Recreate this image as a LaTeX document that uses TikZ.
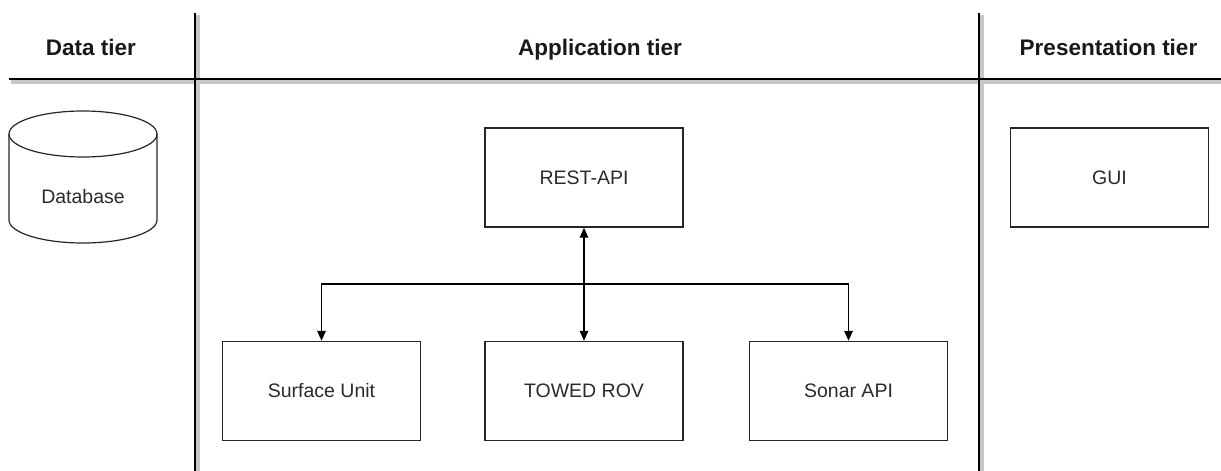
\documentclass[tikz,border=0pt]{standalone}
\usepackage{fontspec}
\setmainfont{Liberation Sans}
\usetikzlibrary{arrows.meta}
\definecolor{txt}{HTML}{2A2A2A}
\tikzset{
  tierline/.style={line width=2.6pt, black},
  tiershadow/.style={line width=5pt, black!22},
  header/.style={font=\fontsize{22.5}{26}\selectfont\bfseries, text=black!90, inner sep=0pt},
  boxnode/.style={draw=black!85, line width=1.4pt, minimum width=198pt, minimum height=99pt, inner sep=0pt,
    font=\fontsize{19.5}{23}\selectfont, text=txt},
  conn/.style={line width=1.4pt, black, -{Triangle[length=10pt,width=8.5pt]}},
  conn2/.style={line width=1.4pt, black, {Triangle[length=10pt,width=8.5pt]}-{Triangle[length=10pt,width=8.5pt]}},
}
\begin{document}
\begin{tikzpicture}[x=1pt,y=-1pt]
\useasboundingbox (0,0) rectangle (1221,471);
% tier lines
\coordinate (hl) at (9,79);
\coordinate (hr) at (1221,79);
\coordinate (v1t) at (195,13);
\coordinate (v1b) at (195,471);
\coordinate (v2t) at (979,13);
\coordinate (v2b) at (979,471);
\draw[tiershadow] ([shift={(1.5,2)}]hl) -- ([shift={(0,2)}]hr);
\draw[tiershadow] ([shift={(2,1.5)}]v1t) -- ([shift={(2,0)}]v1b);
\draw[tiershadow] ([shift={(2,1.5)}]v2t) -- ([shift={(2,0)}]v2b);
\draw[tierline] (hl) -- (hr);
\draw[tierline] (v1t) -- (v1b);
\draw[tierline] (v2t) -- (v2b);
% headers
\node[header, anchor=base] (h1) at (91,55) {Data tier};
\node[header, anchor=base] (h2) at (600,55) {Application tier};
\node[header, anchor=base] (h3) at (1108.5,55) {Presentation tier};
% database cylinder
\node[minimum width=148pt, minimum height=20pt, inner sep=0pt, font=\fontsize{19.5}{23}\selectfont, text=txt] (db) at (83,197) {Database};
\draw[line width=1.2pt, black!85] (9,134) -- (9,220) arc[start angle=180, end angle=0, x radius=74, y radius=23] -- (157,134);
\draw[line width=1.2pt, black!85] (83,134) ellipse[x radius=74, y radius=23];
% boxes
\node[boxnode] (rest) at (584,177.5) {REST-API};
\node[boxnode] (gui) at (1109.5,177.5) {GUI};
\node[boxnode] (surf) at (321.5,391) {Surface Unit};
\node[boxnode] (towed) at (584,391) {TOWED ROV};
\node[boxnode] (sonar) at (848.5,391) {Sonar API};
% connectors
\coordinate (j) at (584,284);
\draw[conn2] (rest.south) -- (towed.north);
\draw[conn] (j) -| (surf.north);
\draw[conn] (j) -| (sonar.north);
\end{tikzpicture}
\end{document}
